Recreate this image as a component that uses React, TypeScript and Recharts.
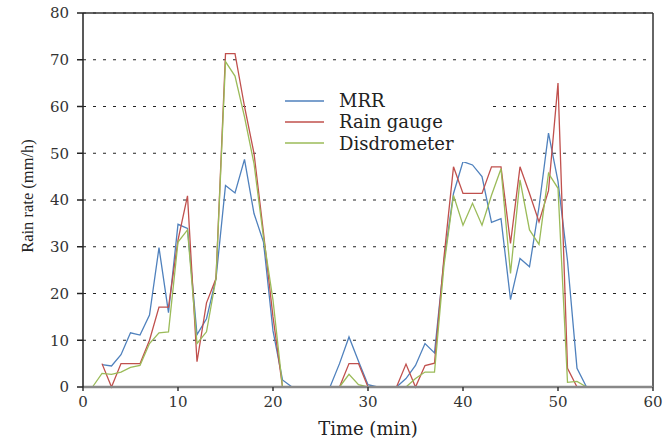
import {
  LineChart,
  Line,
  XAxis,
  YAxis,
  CartesianGrid,
  Legend,
  ReferenceLine,
  Label,
} from "recharts";

// minutes since start of the event
const minutes = [
  1, 2, 3, 4, 5, 6, 7, 8, 9, 10, 11, 12, 13, 14, 15, 16, 17, 18, 19, 20, 21,
  22, 23, 24, 25, 26, 27, 28, 29, 30, 31, 32, 33, 34, 35, 36, 37, 38, 39, 40,
  41, 42, 43, 44, 45, 46, 47, 48, 49, 50, 51, 52, 53,
];

// rain rate in mm/h, null = no sample drawn
const mrr = [
  null, 4.8, 4.5, 6.9, 11.6, 11.1, 15.4, 29.8, 15.9, 34.8, 33.9, 11.2, 14.6,
  23.2, 43.1, 41.5, 48.7, 37.1, 31, 12, 1.5, 0, null, null, null, 0, 5, 10.7,
  5.5, 0.5, 0, null, 0, 1.8, 4.6, 9.3, 7.3, 27, 41.4, 48.2, 47.5, 45, 35.2, 36,
  18.7, 27.5, 25.7, 38.5, 54.3, 44, 27, 4, 0,
];

const rainGauge = [
  null, 5, 0, 5, 5, 5, 10, 17.1, 17.1, 31.4, 40.9, 5.4, 18, 23.2, 71.3, 71.3,
  60, 50, 33, 15, 0, null, null, null, null, null, 0, 5, 5, 0, null, null, 0,
  4.9, 0, 4.6, 5.1, 27.8, 47.1, 41.4, 41.4, 41.4, 47.1, 47.1, 30.7, 47.1, 41.4,
  35.3, 42, 65, 4, 0, null,
];

const disdrometer = [
  0, 2.9, 2.7, 3.2, 4.2, 4.6, 9.3, 11.6, 11.8, 31, 33.6, 9.3, 11.8, 23.2, 69.6,
  66.5, 57.8, 47.8, 32, 18.6, 0, null, null, null, null, null, 0, 2.7, 0.5, 0,
  null, null, null, 0, 1.8, 3.2, 3.2, 26, 41, 34.6, 39.3, 34.6, 41, 46.7, 24.3,
  44.3, 33.6, 30.5, 45.7, 42.5, 1, 1.2, 0,
];

const xTicks = [0, 10, 20, 30, 40, 50, 60];
const yTicks = [0, 10, 20, 30, 40, 50, 60, 70, 80];

const seriesInfo = [
  { key: "mrr", name: "MRR", color: "#4f81bd" },
  { key: "gauge", name: "Rain gauge", color: "#c0504d" },
  { key: "disdro", name: "Disdrometer", color: "#9bbb59" },
];

const data = minutes.map((t, i) => ({
  t,
  mrr: mrr[i],
  gauge: rainGauge[i],
  disdro: disdrometer[i],
}));

const tickFont = { fontFamily: "DejaVu Serif", fontSize: 15, fill: "#333" };

const renderLegend = () => (
  <div
    style={{
      background: "#fff",
      padding: "2px 0 8px 0",
      fontFamily: "DejaVu Serif",
      fontSize: 18,
      color: "#222",
    }}
  >
    {seriesInfo.map((s) => (
      <div
        key={s.key}
        style={{ display: "flex", alignItems: "center", height: 21.3 }}
      >
        <svg width={39} height={4} style={{ marginLeft: 23, marginRight: 15 }}>
          <line x1={0} y1={2} x2={39} y2={2} stroke={s.color} strokeWidth={1.3} />
        </svg>
        <span>{s.name}</span>
      </div>
    ))}
  </div>
);

export default function App() {
  return (
    <div style={{ position: "absolute", left: 0, top: 0, width: 663, height: 440, background: "#fff" }}>
      <LineChart
        width={663}
        height={440}
        data={data}
        margin={{ top: 13, right: 10, bottom: 23, left: 0 }}
      >
        <CartesianGrid
          vertical={false}
          stroke="#222"
          strokeDasharray="3 7"
        />
        <XAxis
          dataKey="t"
          type="number"
          domain={[0, 60]}
          ticks={xTicks}
          height={30}
          stroke="#888"
          strokeWidth={2.5}
          tickSize={4}
          tickMargin={5}
          tickLine={{ stroke: "#333", strokeWidth: 1.5 }}
          tick={tickFont}
        >
          <Label
            content={(props: any) => {
              const vb = props.viewBox;
              return (
                <text
                  x={vb.x + vb.width / 2}
                  y={vb.y + 48}
                  textAnchor="middle"
                  fontFamily="DejaVu Serif"
                  fontSize={18}
                  fill="#222"
                >
                  Time (min)
                </text>
              );
            }}
          />
        </XAxis>
        <YAxis
          type="number"
          domain={[0, 80]}
          ticks={yTicks}
          width={83}
          stroke="#222"
          strokeWidth={1.5}
          tickSize={6}
          tickMargin={8}
          tick={tickFont}
        >
          <Label
            content={(props: any) => {
              const vb = props.viewBox;
              const cx = 27;
              const cy = vb.y + vb.height / 2 - 4;
              return (
                <text
                  x={cx}
                  y={cy}
                  transform={`rotate(-90, ${cx}, ${cy})`}
                  textAnchor="middle"
                  dominantBaseline="central"
                  fontFamily="Liberation Serif"
                  fontSize={16.5}
                  fill="#222"
                >
                  Rain rate (mm/h)
                </text>
              );
            }}
          />
        </YAxis>
        <ReferenceLine y={80} stroke="#333" strokeWidth={1.5} />
        <ReferenceLine x={60} stroke="#333" strokeWidth={1.5} />
        <Legend
          layout="vertical"
          align="center"
          verticalAlign="middle"
          wrapperStyle={{ left: 262, top: 88, width: 228 }}
          content={renderLegend}
        />
        {seriesInfo.map((s) => (
          <Line
            key={s.key}
            dataKey={s.key}
            name={s.name}
            stroke={s.color}
            strokeWidth={1.3}
            dot={false}
            activeDot={false}
            isAnimationActive={false}
            type="linear"
          />
        ))}
      </LineChart>
    </div>
  );
}
